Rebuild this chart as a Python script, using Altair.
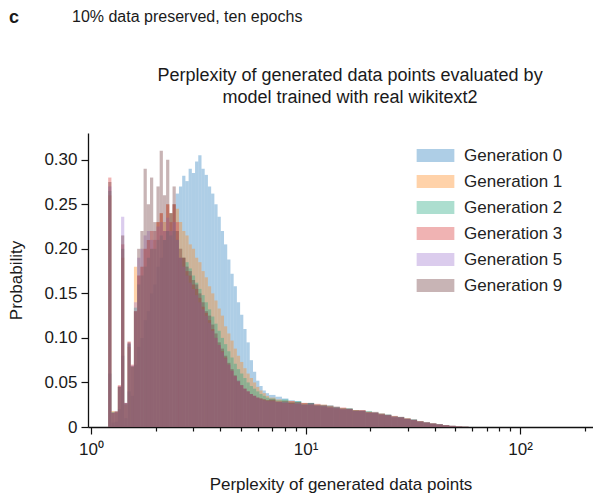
import altair as alt
import pandas as pd

GENERATIONS = ["Generation 0", "Generation 1", "Generation 2",
               "Generation 3", "Generation 5", "Generation 9"]
COLORS = ["#2a7dbd", "#ff8a1e", "#25a880", "#d83838", "#a07ad0", "#6e3a3c"]

# histogram bin layout in log10(perplexity): fine bins, then coarser tail bins
FINE_START, FINE_STEP, FINE_COUNT = 0.08, 0.015, 50
COARSE_START, COARSE_STEP, COARSE_COUNT = 0.83, 0.03, 31

gen0_fine = [0.06, 0.005, 0.006, 0.02, 0.08, 0.01, 0.04, 0.035, 0.07, 0.09,
             0.10, 0.12, 0.13, 0.15, 0.16, 0.18, 0.19, 0.21, 0.22, 0.24,
             0.25, 0.262, 0.27, 0.282, 0.276, 0.29, 0.285, 0.298, 0.305, 0.29,
             0.283, 0.27, 0.262, 0.25, 0.236, 0.22, 0.205, 0.188, 0.172, 0.158,
             0.14, 0.126, 0.11, 0.095, 0.075, 0.062, 0.052, 0.046, 0.041, 0.038]
gen0_tail = [0.036, 0.034, 0.032, 0.03, 0.029, 0.027, 0.027, 0.025, 0.024, 0.024,
             0.022, 0.021, 0.02, 0.019, 0.018, 0.017, 0.016, 0.015, 0.0135, 0.012,
             0.011, 0.0095, 0.008, 0.0065, 0.005, 0.004, 0.003, 0.002, 0.0013, 0.0007, 0.0003]

gen1_fine = [0.26, 0.018, 0.017, 0.046, 0.19, 0.025, 0.09, 0.068, 0.18, 0.17,
             0.18, 0.20, 0.21, 0.20, 0.22, 0.23, 0.24, 0.23, 0.25, 0.24,
             0.25, 0.245, 0.23, 0.22, 0.215, 0.205, 0.20, 0.19, 0.185, 0.175,
             0.168, 0.158, 0.15, 0.142, 0.133, 0.125, 0.113, 0.105, 0.097, 0.088,
             0.08, 0.073, 0.066, 0.06, 0.055, 0.05, 0.045, 0.041, 0.038, 0.035]
gen1_tail = [0.033, 0.031, 0.03, 0.029, 0.028, 0.027, 0.026, 0.025, 0.025, 0.023,
             0.022, 0.021, 0.02, 0.019, 0.018, 0.017, 0.016, 0.015, 0.0135, 0.012,
             0.011, 0.0095, 0.008, 0.0065, 0.005, 0.004, 0.003, 0.002, 0.0013, 0.0007, 0.0003]

gen2_fine = [0.265, 0.017, 0.016, 0.045, 0.20, 0.026, 0.093, 0.068, 0.134, 0.16,
             0.17, 0.18, 0.19, 0.20, 0.20, 0.21, 0.215, 0.21, 0.22, 0.215,
             0.22, 0.21, 0.20, 0.19, 0.185, 0.178, 0.17, 0.162, 0.155, 0.148,
             0.14, 0.132, 0.124, 0.116, 0.108, 0.10, 0.093, 0.085, 0.078, 0.071,
             0.065, 0.06, 0.055, 0.05, 0.046, 0.043, 0.04, 0.037, 0.035, 0.033]
gen2_tail = [0.032, 0.03, 0.031, 0.028, 0.029, 0.026, 0.027, 0.025, 0.024, 0.024,
             0.022, 0.021, 0.021, 0.019, 0.018, 0.018, 0.016, 0.015, 0.014, 0.012,
             0.011, 0.0095, 0.0085, 0.0065, 0.005, 0.004, 0.003, 0.002, 0.0012, 0.0007, 0.0003]

gen3_fine = [0.28, 0.016, 0.017, 0.047, 0.205, 0.027, 0.096, 0.07, 0.13, 0.17,
             0.18, 0.20, 0.21, 0.22, 0.21, 0.23, 0.24, 0.22, 0.25, 0.23,
             0.25, 0.23, 0.20, 0.19, 0.175, 0.17, 0.16, 0.155, 0.145, 0.135,
             0.128, 0.12, 0.11, 0.10, 0.092, 0.085, 0.078, 0.07, 0.063, 0.057,
             0.051, 0.047, 0.043, 0.04, 0.037, 0.035, 0.033, 0.032, 0.031, 0.03]
gen3_tail = [0.03, 0.029, 0.027, 0.029, 0.026, 0.027, 0.025, 0.026, 0.023, 0.024,
             0.021, 0.022, 0.02, 0.019, 0.019, 0.017, 0.016, 0.015, 0.013, 0.0125,
             0.0105, 0.0098, 0.0078, 0.0066, 0.0048, 0.0041, 0.0028, 0.0021, 0.0012, 0.0007, 0.0003]

gen5_fine = [0.27, 0.016, 0.017, 0.046, 0.236, 0.027, 0.094, 0.069, 0.14, 0.19,
             0.20, 0.215, 0.22, 0.21, 0.22, 0.225, 0.23, 0.22, 0.235, 0.22,
             0.23, 0.21, 0.19, 0.18, 0.17, 0.162, 0.155, 0.148, 0.14, 0.132,
             0.125, 0.117, 0.108, 0.10, 0.092, 0.084, 0.077, 0.07, 0.063, 0.057,
             0.052, 0.047, 0.043, 0.04, 0.037, 0.035, 0.033, 0.031, 0.03, 0.029]
gen5_tail = [0.029, 0.028, 0.028, 0.026, 0.027, 0.025, 0.026, 0.024, 0.024, 0.022,
             0.022, 0.02, 0.02, 0.018, 0.018, 0.016, 0.016, 0.014, 0.0135, 0.0115,
             0.011, 0.009, 0.008, 0.006, 0.005, 0.0038, 0.003, 0.0019, 0.0013, 0.0006, 0.0003]

gen9_fine = [0.275, 0.016, 0.018, 0.045, 0.215, 0.027, 0.095, 0.068, 0.13, 0.20,
             0.22, 0.29, 0.25, 0.28, 0.23, 0.27, 0.31, 0.26, 0.30, 0.24,
             0.27, 0.22, 0.19, 0.19, 0.18, 0.175, 0.165, 0.16, 0.15, 0.14,
             0.13, 0.125, 0.115, 0.105, 0.095, 0.088, 0.08, 0.072, 0.065, 0.058,
             0.052, 0.047, 0.043, 0.04, 0.037, 0.035, 0.033, 0.032, 0.031, 0.03]
gen9_tail = [0.031, 0.028, 0.029, 0.027, 0.028, 0.025, 0.027, 0.024, 0.025, 0.022,
             0.023, 0.020, 0.021, 0.018, 0.019, 0.016, 0.017, 0.014, 0.014, 0.011,
             0.0115, 0.009, 0.0085, 0.006, 0.0055, 0.0038, 0.0032, 0.0019, 0.0014, 0.0006, 0.0003]

SERIES = [gen0_fine + gen0_tail, gen1_fine + gen1_tail, gen2_fine + gen2_tail,
          gen3_fine + gen3_tail, gen5_fine + gen5_tail, gen9_fine + gen9_tail]

X_TICKS = [1, 2, 3, 4, 5, 6, 7, 8, 9, 10, 20, 30, 40, 50, 60, 70, 80, 90, 100, 200]
Y_TICKS = [0, 0.05, 0.10, 0.15, 0.20, 0.25, 0.30]

PANEL_LETTER = "c"
PANEL_NOTE = "10% data preserved, ten epochs"
TITLE_LINES = ["Perplexity of generated data points evaluated by",
               "model trained with real wikitext2"]
X_TITLE = "Perplexity of generated data points"
Y_TITLE = "Probability"

edges_lo, edges_hi = [], []
for k in range(FINE_COUNT):
    edges_lo.append(10 ** (FINE_START + FINE_STEP * k))
    edges_hi.append(10 ** (FINE_START + FINE_STEP * (k + 1)))
for k in range(COARSE_COUNT):
    edges_lo.append(10 ** (COARSE_START + COARSE_STEP * k))
    edges_hi.append(10 ** (COARSE_START + COARSE_STEP * (k + 1)))

rows = []
for gi, (name, vals) in enumerate(zip(GENERATIONS, SERIES)):
    for lo, hi, p in zip(edges_lo, edges_hi, vals):
        rows.append({"gen": name, "gi": gi, "lo": lo, "hi": hi, "p": p})
df = pd.DataFrame(rows)

FONT = "Liberation Sans"
major = "datum.value == 1 || datum.value == 10 || datum.value == 100"

hist = alt.Chart(df).mark_bar(opacity=0.38).encode(
    x=alt.X("lo:Q",
            scale=alt.Scale(type="log", domain=[0.968, 218.9], nice=False),
            axis=alt.Axis(values=X_TICKS,
                          labelExpr="datum.value == 1 ? '10⁰' : datum.value == 10 ? '10¹' : datum.value == 100 ? '10²' : ''",
                          tickSize={"condition": {"test": major, "value": 7}, "value": 4},
                          labelPadding=7, titlePadding=19),
            title=X_TITLE),
    x2="hi:Q",
    y=alt.Y("p:Q", stack=None,
            scale=alt.Scale(domain=[0, 0.33], nice=False),
            axis=alt.Axis(values=Y_TICKS,
                          labelExpr="datum.value == 0 ? '0' : format(datum.value, '.2f')",
                          tickSize=7, labelPadding=4, titlePadding=18),
            title=Y_TITLE),
    y2=alt.datum(0),
    color=alt.Color("gen:N",
                    scale=alt.Scale(domain=GENERATIONS, range=COLORS),
                    legend=alt.Legend(title=None, orient="none", legendX=339, legendY=14,
                                      symbolType="M-2.9,-1L2.9,-1L2.9,1L-2.9,1Z",
                                      symbolSize=169, symbolStrokeWidth=0,
                                      symbolOpacity=0.38,
                                      labelFontSize=17, labelFont=FONT, labelColor="#222222",
                                      labelOffset=20, rowPadding=8, padding=0)),
    order=alt.Order("gi:Q"),
)

def text_layer(txt, x, y, size=17, weight="normal", align="left", baseline="middle"):
    return alt.Chart(pd.DataFrame({"t": [txt]})).mark_text(
        font=FONT, fontSize=size, fontWeight=weight, align=align,
        baseline=baseline, color="#1a1a1a"
    ).encode(text="t:N", x=alt.value(x), y=alt.value(y))

letter = text_layer(PANEL_LETTER, -79, -124, size=18, weight="bold", baseline="top")
note = text_layer(PANEL_NOTE, -16, -124, size=16, baseline="top")
title1 = text_layer(TITLE_LINES[0], 262, -57, size=18, align="center")
title2 = text_layer(TITLE_LINES[1], 262, -35, size=18, align="center")

chart = alt.layer(hist, letter, note, title1, title2).properties(
    width=505, height=294,
    autosize=alt.AutoSizeParams(type="none"),
    padding={"left": 80, "top": 125, "right": 0, "bottom": 66},
).configure_view(strokeWidth=0).configure_axis(
    grid=False, domainColor="#111111", domainWidth=1.3, tickColor="#111111",
    tickWidth=1.2, labelFont=FONT, labelFontSize=17, labelColor="#1a1a1a",
    titleFont=FONT, titleFontSize=17, titleFontWeight="normal", titleColor="#1a1a1a",
)

chart.save("out.html", embed_options={"renderer": "svg", "actions": False})
